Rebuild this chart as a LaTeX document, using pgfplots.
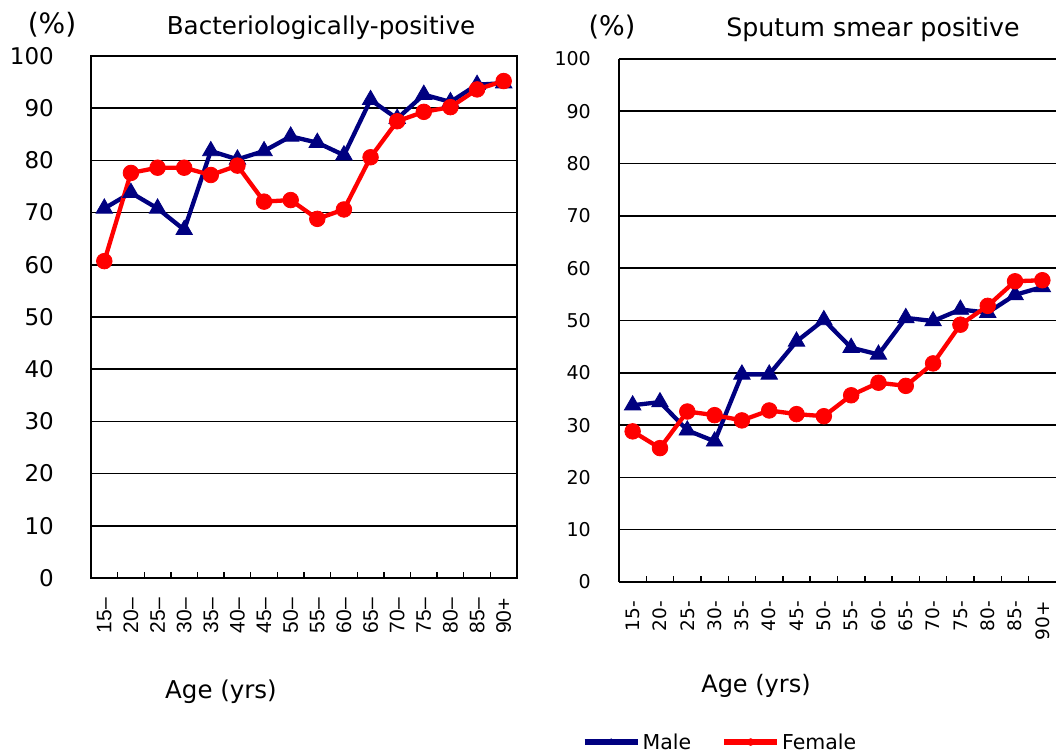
\documentclass[border=0pt]{standalone}
\usepackage{fontspec}
\setmainfont{DejaVu Sans}
\newfontfamily\arial{Liberation Sans}
\usepackage{pgfplots}
\usepackage{pgfplotstable}
\pgfplotsset{compat=1.18}
\definecolor{navy}{RGB}{0,0,128}
\definecolor{pred}{RGB}{255,0,0}

\pgfplotstableread{
idx male female
0 70.8 60.7
1 73.8 77.6
2 70.8 78.6
3 66.7 78.6
4 81.8 77.2
5 80.2 79.0
6 81.8 72.1
7 84.6 72.4
8 83.4 68.8
9 81.0 70.6
10 91.6 80.6
11 88.0 87.5
12 92.6 89.3
13 91.2 90.2
14 94.5 93.6
15 94.8 95.2
}\bact

\pgfplotstableread{
idx male female
0 33.8 28.8
1 34.4 25.6
2 29.0 32.6
3 26.9 31.9
4 39.7 30.9
5 39.7 32.8
6 46.0 32.1
7 50.1 31.7
8 44.8 35.7
9 43.5 38.1
10 50.5 37.5
11 49.9 41.8
12 52.1 49.2
13 51.5 52.8
14 54.9 57.5
15 56.4 57.7
}\smear

\pgfplotsset{
  panel/.style={
    scale only axis, anchor=south west,
    xmin=-0.5, xmax=15.5, ymin=0, ymax=100,
    ytick={0,10,...,100}, xtick={0,...,15},
    minor xtick={0.5,1.5,...,14.5},
    major tick length=0pt, minor tick length=6bp,
    tick align=inside, xtick pos=left, ytick pos=left,
    ymajorgrids, major grid style={black, line width=1.6bp},
    axis line style={black, line width=2bp},
    minor tick style={black, line width=1.4bp},
    clip=false,
    /pgf/number format/assume math mode=true,
    xticklabel style={rotate=90, anchor=east, inner sep=0pt},
    yticklabel style={anchor=east, inner sep=0pt},
  },
  maleplot/.style={color=navy, line width=4.3bp, mark=triangle*, mark size=9.5bp, mark options={solid, line width=0.8bp}},
  femaleplot/.style={color=pred, line width=4.3bp, mark=*, mark size=7.8bp, mark options={solid, line width=0.8bp}},
}

\begin{document}
\begin{tikzpicture}
\path[use as bounding box] (0,0) rectangle (1056bp,756bp);

\begin{axis}[panel,
  at={(91bp,178bp)}, width=426bp, height=522bp,
  xticklabels={15–,20–,25–,30–,35–,40–,45–,50–,55–,60–,65–,70–,75–,80–,85–,90+},
  xticklabel style={font=\arial\fontsize{21bp}{25bp}\selectfont},
  yticklabel style={font=\fontsize{23bp}{27bp}\selectfont},
  xticklabel shift=20bp, yticklabel shift=37bp,
]
\addplot[maleplot] table[x=idx,y=male]{\bact};
\addplot[femaleplot] table[x=idx,y=female]{\bact};
\end{axis}

\begin{axis}[panel,
  at={(619bp,174bp)}, width=437bp, height=523bp,
  axis x line*=bottom, axis y line*=left,
  xticklabels={15-,20-,25-,30-,35-,40-,45-,50-,55-,60-,65-,70-,75-,80-,85-,90+},
  xticklabel style={font=\fontsize{18.5bp}{22bp}\selectfont},
  yticklabel style={font=\fontsize{19bp}{23bp}\selectfont},
  xticklabel shift=19bp, yticklabel shift=28bp,
  legend style={at={(axis description cs:-0.086,-0.306)}, anchor=west, draw=none, fill=none,
    inner sep=0pt, legend columns=2, font=\fontsize{20.5bp}{24bp}\selectfont,
    /tikz/every even column/.append style={column sep=28bp}},
  legend image code/.code={\draw[mark repeat=2,mark phase=2,#1,line width=6bp,mark size=3.5bp,mark options={line width=0.5bp}] plot coordinates {(0bp,0bp)(26.5bp,0bp)(53bp,0bp)};},
]
\addplot[maleplot] table[x=idx,y=male]{\smear};
\addlegendentry{Male}
\addplot[femaleplot] table[x=idx,y=female]{\smear};
\addlegendentry{Female}
\end{axis}

\node[font=\fontsize{24.6bp}{29bp}\selectfont] at (321bp,728bp) {Bacteriologically-positive};
\node[font=\fontsize{28bp}{32bp}\selectfont] at (52bp,731bp) {(\%)};
\node[font=\fontsize{25.3bp}{29bp}\selectfont] at (873bp,726bp) {Sputum smear positive};
\node[font=\fontsize{27bp}{31bp}\selectfont] at (612bp,729bp) {(\%)};
\node[font=\fontsize{24.5bp}{28bp}\selectfont] at (221bp,64bp) {Age (yrs)};
\node[font=\fontsize{24bp}{28bp}\selectfont] at (756bp,70bp) {Age (yrs)};
\end{tikzpicture}
\end{document}
